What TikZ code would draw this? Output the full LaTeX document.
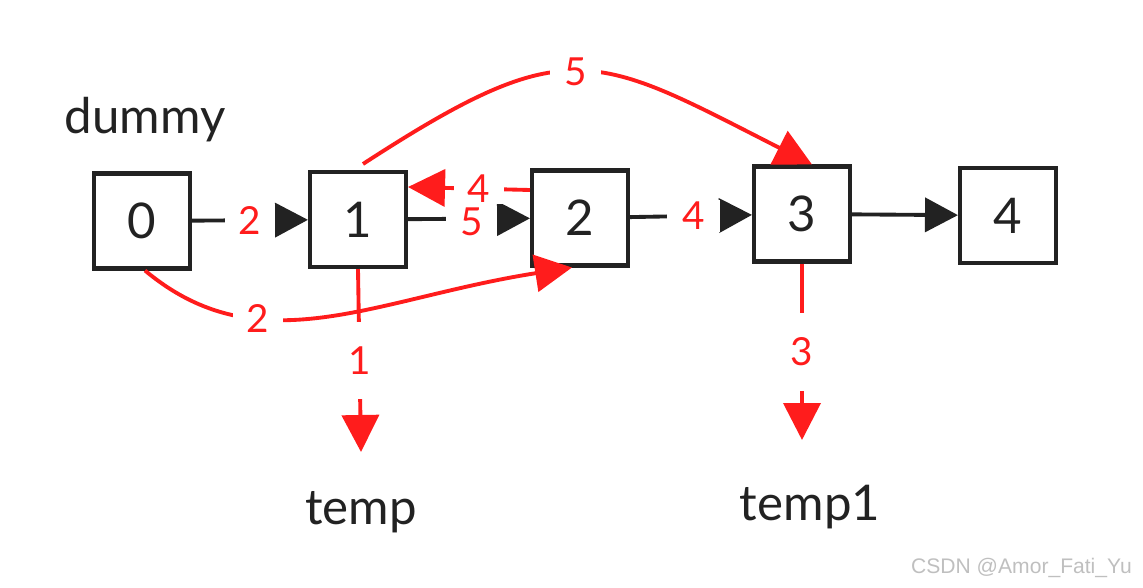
\documentclass[tikz,border=0pt]{standalone}
\usepackage{fontspec}
\setmainfont{Lato}
\newfontfamily\markfont{Liberation Sans}
\usepackage{tikz}
\usetikzlibrary{arrows.meta,positioning,calc}
\definecolor{ink}{RGB}{34,34,34}
\definecolor{linkred}{RGB}{255,28,28}

\begin{document}
\begin{tikzpicture}[
    >={Triangle[length=0.66cm,width=0.68cm]},
    listnode/.style={draw=ink,line width=2.3pt,minimum width=1.92cm,
      minimum height=1.9cm,inner sep=0pt,text=ink,
      font=\fontsize{28}{30}\selectfont},
    flow/.style={->,draw=ink,line width=2.2pt},
    relink/.style={-{Triangle[length=0.74cm,width=0.74cm]},draw=linkred,
      line width=2.2pt},
    weight/.style={fill=white,text=linkred,inner xsep=0.28cm,inner ysep=1pt,
      font=\fontsize{22}{24}\selectfont},
    vweight/.style={fill=white,text=linkred,inner xsep=2pt,inner ysep=0.5cm,
      font=\fontsize{22}{24}\selectfont},
    caption/.style={text=ink,font=\fontsize{28}{30}\selectfont}
  ]
    \useasboundingbox (0,0) rectangle (22.86,11.74);

    % List nodes.
    \node[listnode] (b0) at (2.84,7.32) {0};
    \node[listnode] (b1) at (7.16,7.35) {1};
    \node[listnode] (b2) at (11.60,7.38) {2};
    \node[listnode] (b3) at (16.04,7.46) {3};
    \node[listnode] (b4) at (20.16,7.43) {4};
    \node[caption] (dummy) at (2.90,9.34) {dummy};
    \node[caption] (temp) at (7.22,1.50) {temp};
    \node[caption] (temp1) at (16.20,1.60) {temp1};
    \coordinate (tip1) at (7.22,2.70);
    \coordinate (tip3) at (16.04,2.94);

    % Original next pointers.
    \draw[flow] (b0) -- node[weight] {2} (b1);
    \draw[flow] (b1) -- node[weight,pos=0.52,yshift=-2pt] {5} (b2);
    \draw[flow] (b2) -- node[weight,pos=0.52,inner xsep=0.3cm] {4} (b3);
    \draw[flow] (b3) -- (b4);

    % Reversal steps.
    \draw[relink] ([yshift=0.56cm]b2.west) -- node[weight,pos=0.42] {4}
      ([yshift=0.65cm]b1.east);
    \draw[relink] ([xshift=0.1cm,yshift=0.12cm]b1.north)
      to[out=33,in=153,looseness=1.4] node[weight,pos=0.48] {5}
      ([xshift=0.2cm]b3.north);
    \draw[relink] ([xshift=0.06cm]b0.south)
      .. controls +(2.3,-1.92) and +(-3.96,-0.62) .. node[weight,pos=0.32] {2}
      ([xshift=-0.16cm]b2.south);
    \draw[relink] (b1.south) -- node[vweight] {1} (tip1);
    \draw[relink] (b3.south) -- node[vweight] {3} (tip3);

    \node[anchor=east,text=black!25,font=\markfont\fontsize{12}{14}\selectfont]
      (mark) at (22.76,0.38) {CSDN @Amor\_Fati\_Yu};
  \end{tikzpicture}
\end{document}
